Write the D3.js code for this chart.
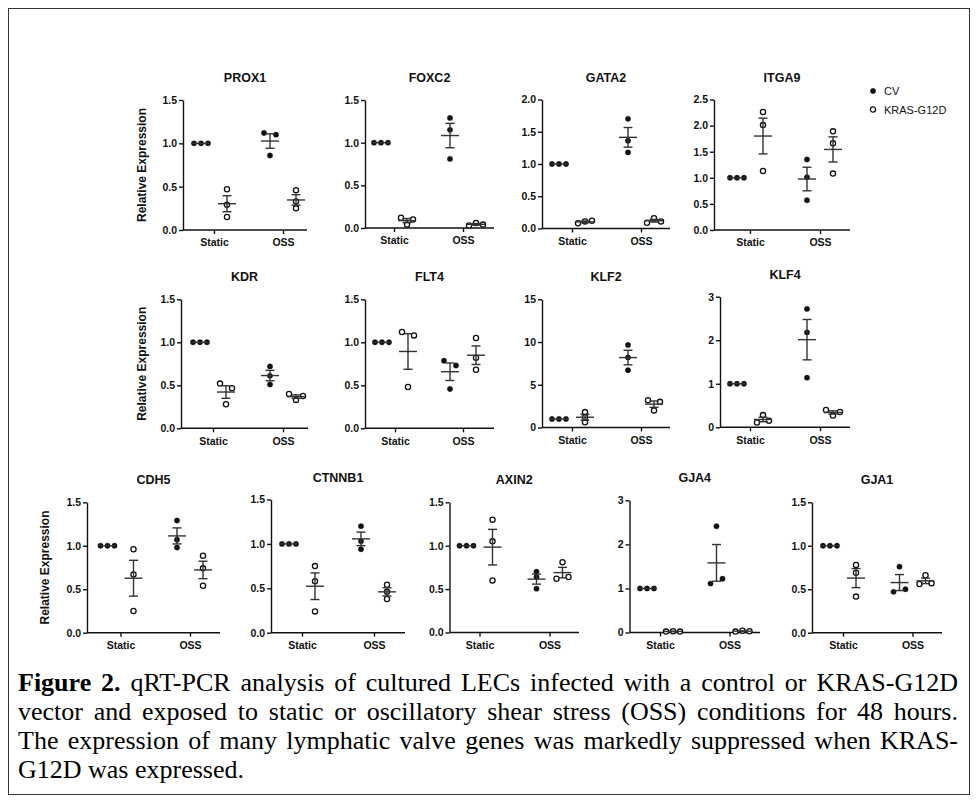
<!DOCTYPE html>
<html><head><meta charset="utf-8">
<script src="https://cdn.jsdelivr.net/npm/d3@7"></script>
<style>body{margin:0;background:#fff} svg{display:block}</style>
</head><body><svg id="c" width="980" height="804"></svg>
<script>
// ---------------- DATA ----------------
const genes = ["PROX1","FOXC2","GATA2","ITGA9","KDR","FLT4","KLF2","KLF4","CDH5","CTNNB1","AXIN2","GJA4","GJA1"];
const categories = ["Static","OSS"];
const seriesNames = ["CV","KRAS-G12D"];

// replicate values per category [Static, OSS], listed left-to-right as plotted
const PROX1_CV    = [[1.00,1.00,1.00],[1.12,1.10,0.86]];
const PROX1_KRAS  = [[0.47,0.29,0.15],[0.46,0.33,0.25]];
const FOXC2_CV    = [[1.00,1.00,1.00],[1.29,1.15,0.81]];
const FOXC2_KRAS  = [[0.12,0.10,0.04],[0.03,0.06,0.04]];
const GATA2_CV    = [[1.00,1.00,1.00],[1.70,1.36,1.18]];
const GATA2_KRAS  = [[0.08,0.11,0.12],[0.09,0.16,0.11]];
const ITGA9_CV    = [[1.00,1.00,1.00],[1.35,1.01,0.57]];
const ITGA9_KRAS  = [[2.26,2.01,1.13],[1.89,1.66,1.08]];
const KDR_CV      = [[1.00,1.00,1.00],[0.72,0.61,0.51]];
const KDR_KRAS    = [[0.52,0.465,0.28],[0.40,0.33,0.375]];
const FLT4_CV     = [[1.00,1.00,1.00],[0.786,0.73,0.457]];
const FLT4_KRAS   = [[1.12,1.08,0.48],[1.05,0.82,0.68]];
const KLF2_CV     = [[1.00,1.00,1.00],[9.65,8.20,6.70]];
const KLF2_KRAS   = [[1.80,1.20,0.60],[3.20,3.00,2.00]];
const KLF4_CV     = [[1.00,1.00,1.00],[2.72,2.18,1.14]];
const KLF4_KRAS   = [[0.11,0.28,0.15],[0.40,0.27,0.35]];
const CDH5_CV     = [[1.00,1.00,1.00],[1.29,1.07,0.98]];
const CDH5_KRAS   = [[0.96,0.67,0.25],[0.886,0.74,0.54]];
const CTNNB1_CV   = [[1.00,1.00,1.00],[1.20,1.03,0.94]];
const CTNNB1_KRAS = [[0.75,0.58,0.24],[0.54,0.46,0.38]];
const AXIN2_CV    = [[1.00,1.00,1.00],[0.70,0.505,0.64]];
const AXIN2_KRAS  = [[1.30,1.05,0.60],[0.62,0.81,0.64]];
const GJA4_CV     = [[1.00,1.00,1.00],[1.11,2.41,1.22]];
const GJA4_KRAS   = [[0.02,0.03,0.02],[0.02,0.04,0.03]];
const GJA1_CV     = [[1.00,1.00,1.00],[0.47,0.76,0.50]];
const GJA1_KRAS   = [[0.78,0.69,0.415],[0.56,0.66,0.57]];

// y-axis tick values per panel
const TICKS_15  = [0, 0.5, 1.0, 1.5];
const TICKS_20  = [0, 0.5, 1.0, 1.5, 2.0];
const TICKS_25  = [0, 0.5, 1.0, 1.5, 2.0, 2.5];
const TICKS_3   = [0, 1, 2, 3];
const TICKS_15I = [0, 5, 10, 15];

const yLabel = "Relative Expression";
const captionBold = "Figure 2.";
const captionLines = [
  " qRT-PCR analysis of cultured LECs infected with a control or KRAS-G12D",
  "vector and exposed to static or oscillatory shear stress (OSS) conditions for 48 hours.",
  "The expression of many lymphatic valve genes was markedly suppressed when KRAS-",
  "G12D was expressed."
];

const panelData = {
  PROX1:[PROX1_CV,PROX1_KRAS,TICKS_15], FOXC2:[FOXC2_CV,FOXC2_KRAS,TICKS_15],
  GATA2:[GATA2_CV,GATA2_KRAS,TICKS_20], ITGA9:[ITGA9_CV,ITGA9_KRAS,TICKS_25],
  KDR:[KDR_CV,KDR_KRAS,TICKS_15], FLT4:[FLT4_CV,FLT4_KRAS,TICKS_15],
  KLF2:[KLF2_CV,KLF2_KRAS,TICKS_15I], KLF4:[KLF4_CV,KLF4_KRAS,TICKS_3],
  CDH5:[CDH5_CV,CDH5_KRAS,TICKS_15], CTNNB1:[CTNNB1_CV,CTNNB1_KRAS,TICKS_15],
  AXIN2:[AXIN2_CV,AXIN2_KRAS,TICKS_15], GJA4:[GJA4_CV,GJA4_KRAS,TICKS_3],
  GJA1:[GJA1_CV,GJA1_KRAS,TICKS_15]
};

// ---------------- LAYOUT ----------------
const layout = {
  PROX1:{x0:183,x1:307,t1:214,t2:283,y0:230,y1:100, ylab:142},
  FOXC2:{x0:365,x1:494,t1:394,t2:463,y0:228,y1:100},
  GATA2:{x0:542,x1:670,t1:572,t2:641,y0:228.5,y1:99.5},
  ITGA9:{x0:714,x1:850,t1:750,t2:820,y0:230,y1:99.5},
  KDR:{x0:181,x1:308,t1:213,t2:283,y0:428.3,y1:299.3, ylab:142},
  FLT4:{x0:365,x1:494,t1:395,t2:463,y0:428.3,y1:299.3},
  KLF2:{x0:542,x1:670,t1:572,t2:641,y0:427.5,y1:299.3},
  KLF4:{x0:720,x1:850,t1:750,t2:820,y0:427.3,y1:296.7},
  CDH5:{x0:87,x1:220,t1:120.5,t2:190,y0:632.7,y1:502.3, ylab:45},
  CTNNB1:{x0:271,x1:405,t1:302,t2:374,y0:632.7,y1:499.5},
  AXIN2:{x0:449.5,x1:579,t1:479.5,t2:549.5,y0:632.5,y1:502.3},
  GJA4:{x0:629.5,x1:760,t1:660,t2:729.5,y0:632.5,y1:500.3},
  GJA1:{x0:812,x1:942,t1:843,t2:912.5,y0:632.7,y1:502.3}
};

const svg = d3.select("#c");
const FONT = "'Liberation Sans', Arial, sans-serif";
const INK = "#111";

// frame
svg.append("rect").attr("x",8.5).attr("y",8.5).attr("width",961).attr("height",786)
  .attr("fill","none").attr("stroke","#333").attr("stroke-width",1);

function swarm(vals, y) {
  const idx = vals.map((v,i)=>i).sort((a,b)=>vals[b]-vals[a]);
  const offs = new Array(vals.length).fill(0);
  let clusters = [], cur = [idx[0]];
  for (let k=1;k<idx.length;k++){
    if (Math.abs(y(vals[idx[k]]) - y(vals[idx[k-1]])) < 5) cur.push(idx[k]);
    else { clusters.push(cur); cur=[idx[k]]; }
  }
  clusters.push(cur);
  clusters.forEach(c=>{
    c.sort((a,b)=>a-b);
    const n=c.length, s = n===2?12:7;
    c.forEach((id,j)=>{ offs[id] = (j-(n-1)/2)*s; });
  });
  return offs;
}

genes.forEach(name=>{
  const [cv, kras, ticks] = panelData[name];
  const L = layout[name];
  const g = svg.append("g");
  const y = d3.scaleLinear().domain([0, d3.max(ticks)]).range([L.y0, L.y1]);
  const x = d3.scalePoint().domain(categories).range([L.t1, L.t2]);
  const off = d3.scalePoint().domain(seriesNames).range([-13, 13]);
  const fmt = d3.max(ticks) >= 3 ? d3.format("d") : d3.format(".1f");

  const ya = g.append("g").attr("transform",`translate(${L.x0},0)`)
    .call(d3.axisLeft(y).tickValues(ticks).tickFormat(fmt).tickSize(4).tickPadding(2).tickSizeOuter(0));
  const xa = g.append("g").attr("transform",`translate(0,${L.y0})`)
    .call(d3.axisBottom(x).tickSize(4).tickPadding(5).tickSizeOuter(0));
  xa.select(".domain").remove();
  xa.append("line").attr("x1",L.x0).attr("x2",L.x1).attr("y1",0).attr("y2",0);
  [ya,xa].forEach(a=>{
    a.selectAll("path,line").attr("stroke",INK).attr("stroke-width",1.4);
    a.selectAll("text").attr("fill",INK).style("font-family",FONT)
      .style("font-weight","bold").style("font-size","10.5px");
  });

  g.append("text").attr("x",(L.x0+L.x1)/2).attr("y",L.y1-18)
    .attr("text-anchor","middle").style("font-family",FONT).style("font-weight","bold")
    .style("font-size","12.5px").attr("fill",INK).text(name);

  if (L.ylab !== undefined) {
    g.append("text").attr("transform",`translate(${L.ylab+4},${(L.y0+L.y1)/2}) rotate(-90)`)
      .attr("text-anchor","middle").style("font-family",FONT).style("font-weight","bold")
      .style("font-size","12px").attr("fill",INK).text(yLabel);
  }

  [cv, kras].forEach((ser, si)=>{
    const sname = seriesNames[si];
    ser.forEach((vals, ci)=>{
      const cx = x(categories[ci]) + off(sname);
      const m = d3.mean(vals), sem = d3.deviation(vals)/Math.sqrt(vals.length);
      const offs = swarm(vals, y);
      const pts = g.append("g");
      pts.selectAll("circle").data(vals).join("circle")
        .attr("cx",(d,i)=>cx+offs[i]).attr("cy",d=>y(d))
        .attr("r", si===0?2.7:2.6)
        .attr("fill", si===0?INK:"#fff")
        .attr("stroke", INK).attr("stroke-width", si===0?0.3:1.3);
      const eb = g.append("g").attr("stroke","#333").attr("stroke-width",1.4);
      eb.append("line").attr("x1",cx-9).attr("x2",cx+9).attr("y1",y(m)).attr("y2",y(m));
      if (sem>0){
        eb.append("line").attr("x1",cx).attr("x2",cx).attr("y1",y(m-sem)).attr("y2",y(m+sem));
        eb.append("line").attr("x1",cx-4.5).attr("x2",cx+4.5).attr("y1",y(m-sem)).attr("y2",y(m-sem));
        eb.append("line").attr("x1",cx-4.5).attr("x2",cx+4.5).attr("y1",y(m+sem)).attr("y2",y(m+sem));
      }
    });
  });
});

// legend
const lg = svg.append("g").attr("transform","translate(873,91)");
seriesNames.forEach((s,i)=>{
  lg.append("circle").attr("cx",0).attr("cy",i*18.5).attr("r",i?2.6:2.7)
    .attr("fill",i?"#fff":INK).attr("stroke",INK).attr("stroke-width",i?1.3:0.3);
  lg.append("text").attr("x",11).attr("y",i*18.5+4).style("font-family",FONT)
    .style("font-size","11px").attr("fill",INK).text(s);
});

// caption (justified via word-spacing)
const cap = svg.append("g");
const capY = [691, 720, 749, 778];
const CAPW = 940;
const texts = captionLines.map((t,i)=>{
  const tx = cap.append("text").attr("x",18).attr("y",capY[i])
    .style("font-family","'Liberation Serif','Times New Roman',serif")
    .style("font-size","26px").attr("fill","#000");
  if (i===0) tx.append("tspan").style("font-weight","bold").text(captionBold);
  tx.append("tspan").text(t);
  return tx;
});
let maxW = d3.max(texts.slice(0,3), t=>t.node().getComputedTextLength());
const fs = Math.min(26, 26*(CAPW-4)/maxW);
texts.forEach(t=>t.style("font-size",fs+"px"));
texts.forEach((t,i)=>{
  if (i<3){
    const w = t.node().getComputedTextLength();
    const full = (i===0?captionBold:"") + captionLines[i];
    const nsp = (full.match(/ /g)||[]).length;
    t.style("word-spacing", ((CAPW-w)/nsp)+"px");
  }
});
</script></body></html>
